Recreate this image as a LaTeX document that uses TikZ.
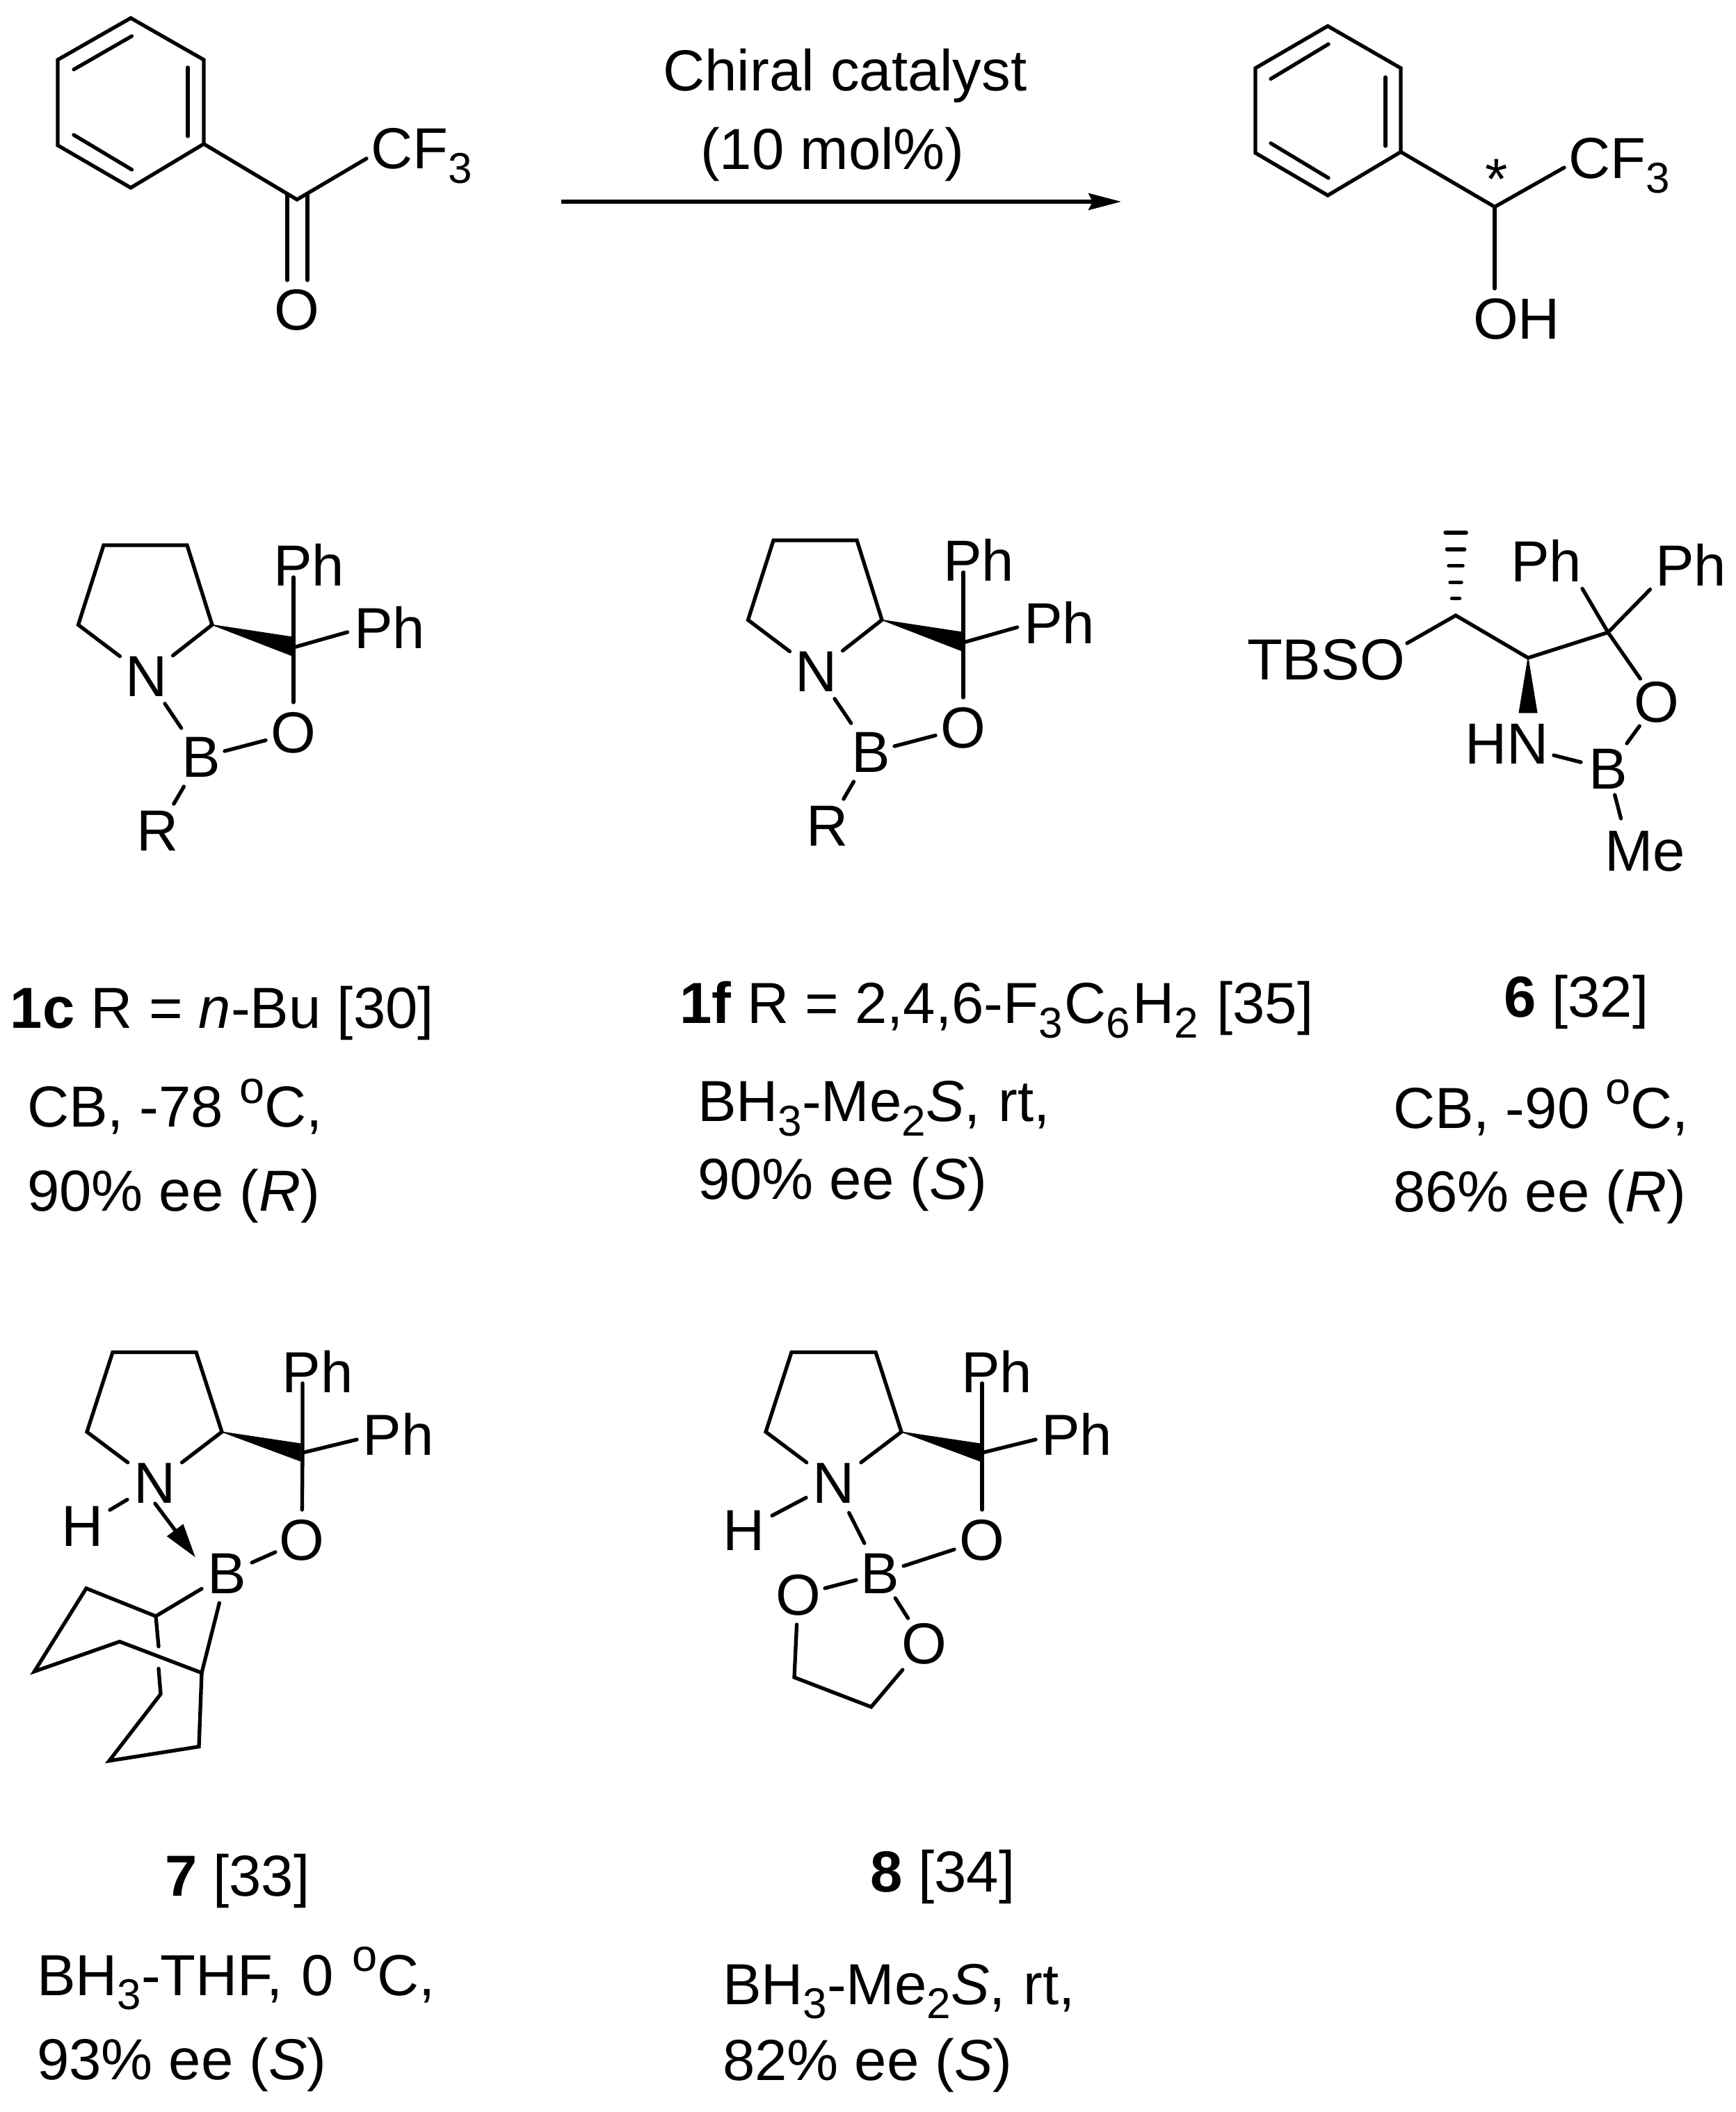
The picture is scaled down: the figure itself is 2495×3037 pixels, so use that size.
\documentclass[tikz,border=0pt]{standalone}
\usepackage{fontspec}
\setmainfont{Liberation Sans}
\usetikzlibrary{arrows.meta}
\newcommand\sbs[1]{\raisebox{-.25em}{\fontsize{6.2}{7}\selectfont #1}}
\newcommand\sps[1]{\raisebox{.42em}{\fontsize{6.5}{7}\selectfont #1}}
\tikzset{
  every node/.style={font=\fontsize{8.33}{10}\selectfont,text=black,inner sep=0pt,outer sep=0pt},
  bond/.style={draw=black,line width=.53pt,line cap=round,line join=miter},
  atom/.style 2 args={rectangle,minimum width=#1*.2pt,minimum height=#2*.2pt},
  grp/.style={anchor=base west},
  capt/.style={anchor=base west},
  ctr/.style={anchor=base},
  wedge/.style={fill=black,draw=black,line width=.1pt,line join=miter},
  reactarrow/.style={draw=black,line width=.53pt,-{Stealth[length=4.7pt,width=2.4pt,inset=.6pt]}},
  dative/.style={bond,-{Triangle[length=4.9pt,width=2.8pt]}},
}
\newcommand\oxazabor{%
  \coordinate (r1) at (149,784); \coordinate (r2) at (269,784);
  \coordinate (r3) at (305,898.5); \coordinate (r4) at (112.5,898.5);
  \coordinate (cq) at (422,931);
  \coordinate (w1) at (420,916); \coordinate (w2) at (420,943);
  \node[atom={38}{31}] (N) at (210.5,972.5) {N};
  \node[atom={34}{42}] (B) at (289,1089) {B};
  \node[atom={40}{44}] (O) at (422,1054) {O};
  \node[atom={30}{39}] (R) at (227,1195) {R};
  \node[grp] (Ph1) at (393,842.5) {Ph};
  \node[grp] (Ph2) at (509,932.5) {Ph};
  \coordinate (e1) at (422,830); \coordinate (e2) at (499.6,909);
  \draw[bond] (N) -- (r4) -- (r1) -- (r2) -- (r3) -- (N);
  \draw[bond,shorten <=1pt] (N) -- (B);
  \draw[bond] (B) -- (O);
  \draw[bond] (B) -- (R);
  \fill[wedge] (r3) -- (w1) -- (w2) -- cycle;
  \draw[bond] (e1) -- (cq) -- (O);
  \draw[bond] (cq) -- (e2);
}
\begin{document}
\begin{tikzpicture}[x=.1pt,y=-.1pt]
\useasboundingbox (0,0) rectangle (2495,3037);
\fill[white] (0,0) rectangle (2495,3037);

% ---------- reactant
\begin{scope}[name prefix=k-]
  \coordinate (a1) at (188,26); \coordinate (a2) at (293,86); \coordinate (a3) at (293,207);
  \coordinate (a4) at (188,270); \coordinate (a5) at (83,209); \coordinate (a6) at (83,86);
  \coordinate (i1) at (189.5,52); \coordinate (i2) at (106,100);
  \coordinate (i3) at (270,97); \coordinate (i4) at (270,196);
  \coordinate (i5) at (106,194); \coordinate (i6) at (189.5,244);
  \coordinate (c) at (427,287);
  \coordinate (f) at (527,228);
  \coordinate (d1) at (413,280); \coordinate (d2) at (413,403);
  \coordinate (d3) at (442,280); \coordinate (d4) at (442,403);
  \node[grp] (cf) at (533,243) {CF\sbs{3}};
  \node[atom={30}{32}] (O) at (427,446) {O};
  \draw[bond] (a1) -- (a2) -- (a3) -- (a4) -- (a5) -- (a6) -- cycle;
  \draw[bond] (i1) -- (i2); \draw[bond] (i3) -- (i4); \draw[bond] (i5) -- (i6);
  \draw[bond] (a3) -- (c) -- (f);
  \draw[bond] (d1) -- (d2); \draw[bond] (d3) -- (d4);
\end{scope}

% ---------- arrow
\coordinate (arrS) at (807,290); \coordinate (arrE) at (1612,290);
\draw[reactarrow] (arrS) -- (arrE);
\node[ctr] (cat1) at (1215,131) {Chiral catalyst};
\node[ctr] (cat2) at (1197,244) {(10 mol\%)};

% ---------- product
\begin{scope}[name prefix=p-]
  \coordinate (a1) at (1909,37.5); \coordinate (a2) at (2014,98); \coordinate (a3) at (2014,218.5);
  \coordinate (a4) at (1909,281); \coordinate (a5) at (1805,220); \coordinate (a6) at (1805,98);
  \coordinate (i1) at (1910,63.5); \coordinate (i2) at (1827,113.5);
  \coordinate (i3) at (1992,111); \coordinate (i4) at (1992,210);
  \coordinate (i5) at (1827,206); \coordinate (i6) at (1910,256);
  \coordinate (c) at (2149,297.5);
  \coordinate (f) at (2249,241); \coordinate (h) at (2149,415);
  \node[grp] (cf) at (2255,257) {CF\sbs{3}};
  \node[grp] (oh) at (2118,488) {OH};
  \node[ctr] (star) at (2152,287) {*};
  \draw[bond] (a1) -- (a2) -- (a3) -- (a4) -- (a5) -- (a6) -- cycle;
  \draw[bond] (i1) -- (i2); \draw[bond] (i3) -- (i4); \draw[bond] (i5) -- (i6);
  \draw[bond] (a3) -- (c) -- (f);
  \draw[bond] (c) -- (h);
\end{scope}

% ---------- 1c and 1f
\begin{scope}[name prefix=c-]
  \oxazabor
\end{scope}
\begin{scope}[name prefix=f-,shift={(963,-7)}]
  \oxazabor
\end{scope}

% ---------- 6
\begin{scope}[name prefix=s-]
  \coordinate (c1) at (2093,885); \coordinate (c2) at (2197,946); \coordinate (c3) at (2312,909.4);
  \coordinate (t) at (2023,925); \coordinate (e1) at (2275,846.5); \coordinate (e2) at (2372.5,847.6);
  \coordinate (m) at (2330.5,1177);
  \coordinate (w1) at (2184,1025); \coordinate (w2) at (2210,1025);
  \node[grp] (tbso) at (1793,978) {TBSO};
  \node[grp] (Ph1) at (2172,836.5) {Ph};
  \node[grp] (Ph2) at (2380,843) {Ph};
  \node[atom={30}{34}] (O) at (2382,1010) {O};
  \node[grp] (hn) at (2106,1099) {HN};
  \node[atom={39}{37}] (B) at (2312,1106) {B};
  \coordinate (hnb) at (2167,1069);
  \node[grp] (me) at (2307,1252.6) {Me};
  \draw[bond] (t) -- (c1) -- (c2) -- (c3);
  \draw[bond] (e1) -- (c3) -- (e2);
  \draw[bond] (c3) -- (O);
  \draw[bond] (O) -- (B);
  \draw[bond,shorten <=6.9pt] (hnb) -- (B);
  \draw[bond] (B) -- (m);
  \fill[wedge] (c2) -- (w1) -- (w2) -- cycle;
  \foreach \yy/\hw in {766/15,790/12.5,813.6/10,837.6/8,860.6/5.5}
    \draw[draw=black,line width=.55pt,line cap=round] (2093-\hw,\yy) -- (2093+\hw,\yy);
\end{scope}

% ---------- 7
\begin{scope}[name prefix=b-]
  \coordinate (r1) at (162,1944.5); \coordinate (r2) at (282,1944.5);
  \coordinate (r3) at (319,2059); \coordinate (r4) at (125,2059);
  \coordinate (cq) at (435,2089); \coordinate (w1) at (432,2076); \coordinate (w2) at (432,2101);
  \coordinate (e1) at (435,1989); \coordinate (e2) at (513,2070);
  \coordinate (tip) at (281,2239.5);
  \node[atom={40}{29.5}] (N) at (223,2132.5) {N};
  \node[atom={39}{30}] (H) at (119,2194.5) {H};
  \node[atom={36}{42}] (B) at (326,2263) {B};
  \node[atom={38}{44}] (O) at (434,2215) {O};
  \node[grp] (Ph1) at (405.5,2002.4) {Ph};
  \node[grp] (Ph2) at (521.5,2092) {Ph};
  \coordinate (b) at (224,2324); \coordinate (c) at (124,2284); \coordinate (d) at (49.4,2403.5);
  \coordinate (e) at (172,2360.6); \coordinate (f) at (290,2405.5);
  \coordinate (h) at (286,2511.6); \coordinate (i) at (157,2532); \coordinate (j) at (231,2436);
  \coordinate (k) at (228,2399.4); \coordinate (l) at (228,2367.6);
  \draw[bond] (N) -- (r4) -- (r1) -- (r2) -- (r3) -- (N);
  \draw[bond] (H) -- (N);
  \draw[dative] (N.south) -- (tip);
  \draw[bond] (B) -- (O);
  \fill[wedge] (r3) -- (w1) -- (w2) -- cycle;
  \draw[bond] (e1) -- (cq) -- (O);
  \draw[bond] (cq) -- (e2);
  \draw[bond] (B) -- (b) -- (c) -- (d) -- (e) -- (f) -- (B);
  \draw[bond] (b) -- (l);
  \draw[bond] (f) -- (h) -- (i) -- (j) -- (k);
\end{scope}

% ---------- 8
\begin{scope}[name prefix=e-]
  \coordinate (r1) at (1138,1944.5); \coordinate (r2) at (1259,1944.5);
  \coordinate (r3) at (1296,2059); \coordinate (r4) at (1101,2059);
  \coordinate (cq) at (1412,2089); \coordinate (w1) at (1409,2076); \coordinate (w2) at (1409,2101);
  \coordinate (e1) at (1412,1989); \coordinate (e2) at (1489,2070);
  \coordinate (v1) at (1142,2412); \coordinate (v2) at (1252.6,2454.5);
  \node[atom={40}{29.5}] (N) at (1199,2132.5) {N};
  \node[atom={40}{30}] (H) at (1070,2200.5) {H};
  \node[atom={34}{35}] (B) at (1265,2263) {B};
  \node[atom={40}{44}] (O) at (1412,2215) {O};
  \node[atom={38.5}{42}] (O2) at (1147.5,2294) {O};
  \node[atom={39}{37}] (O3) at (1329,2364) {O};
  \node[grp] (Ph1) at (1382,2002.4) {Ph};
  \node[grp] (Ph2) at (1497,2092) {Ph};
  \draw[bond] (N) -- (r4) -- (r1) -- (r2) -- (r3) -- (N);
  \draw[bond] (H) -- (N);
  \draw[bond,shorten <=1.5pt,shorten >=1pt] (N) -- (B);
  \draw[bond] (B) -- (O);
  \draw[bond] (B) -- (O2);
  \draw[bond] (B) -- (O3);
  \fill[wedge] (r3) -- (w1) -- (w2) -- cycle;
  \draw[bond] (e1) -- (cq) -- (O);
  \draw[bond] (cq) -- (e2);
  \draw[bond] (O2) -- (v1) -- (v2) -- (O3);
\end{scope}

% ---------- captions
\node[capt] (l1a) at (15,1479) {\textbf{1c} R = \textit{n}-Bu [30]};
\node[capt] (l1b) at (39,1621) {CB, -78 \sps{o}C,};
\node[capt] (l1c) at (39,1741) {90\% ee (\textit{R})};
\node[capt] (l2a) at (977,1472) {\textbf{1f} R = 2,4,6-F\sbs{3}\hspace{.3pt}C\sbs{6}\hspace{.3pt}H\sbs{2}\hspace{.3pt} [35]};
\node[capt] (l2b) at (1003,1613) {BH\sbs{3}-Me\sbs{2}\textit{S},\hspace{.3pt} rt,};
\node[capt] (l2c) at (1003,1724) {90\% ee (\textit{S})};
\node[capt] (l3a) at (2162,1462) {\textbf{6} [32]};
\node[capt] (l3b) at (2003,1622) {CB, -90 \sps{o}C,};
\node[capt] (l3c) at (2003,1742) {86\% ee (\textit{R})};
\node[capt] (l4a) at (237,2726) {\textbf{7} [33]};
\node[capt] (l4b) at (53,2869) {BH\sbs{3}-THF,\hspace{.4pt} 0\hspace{.3pt} \sps{o}C,};
\node[capt] (l4c) at (53,2990) {93\% ee (\textit{S})};
\node[capt] (l5a) at (1251,2720) {\textbf{8} [34]};
\node[capt] (l5b) at (1039,2882) {BH\sbs{3}-Me\sbs{2}\textit{S},\hspace{.3pt} rt,};
\node[capt] (l5c) at (1039,2991) {82\% ee (\textit{S})};
\end{tikzpicture}
\end{document}
